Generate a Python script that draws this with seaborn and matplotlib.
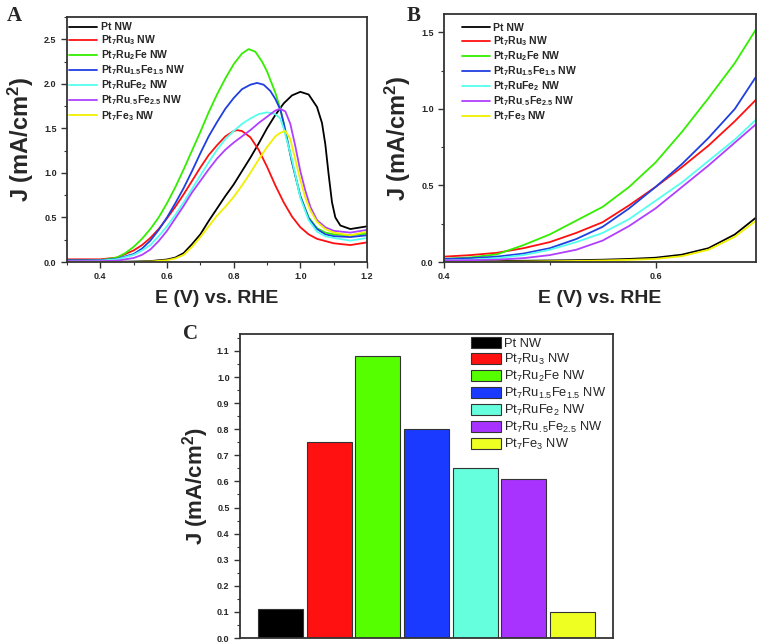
import re
import pandas as pd
import matplotlib
matplotlib.use("Agg")
import matplotlib.pyplot as plt
from matplotlib.ticker import MultipleLocator
import seaborn as sns

# sample names (mathtext for the subscripts)
labels = ["Pt NW", r"Pt$_7$Ru$_3$ NW", r"Pt$_7$Ru$_2$Fe NW", r"Pt$_7$Ru$_{1.5}$Fe$_{1.5}$ NW",
          r"Pt$_7$RuFe$_2$ NW", r"Pt$_7$Ru$_{.5}$Fe$_{2.5}$ NW", r"Pt$_7$Fe$_3$ NW"]
line_colors = ["#000000", "#ff1010", "#33ee00", "#1f3fe0", "#55ffee", "#b040ff", "#f0f000"]
bar_colors = ["#000000", "#ff1111", "#55ff00", "#1a3bff", "#66ffdd", "#a833ff", "#eeff22"]

# Panel A: full sweep
pt_v = [0.30, 0.40, 0.50, 0.55, 0.60, 0.625, 0.65, 0.675, 0.70, 0.725, 0.75, 0.775, 0.80, 0.825, 0.85, 0.875,
        0.90, 0.925, 0.95, 0.975, 1.00, 1.025, 1.05, 1.065, 1.075, 1.085, 1.095, 1.105, 1.12, 1.15, 1.20]
pt_j = [0.0, 0.0, 0.005, 0.01, 0.028, 0.05, 0.10, 0.20, 0.31, 0.46, 0.60, 0.74, 0.87, 1.02, 1.17, 1.33,
        1.50, 1.65, 1.78, 1.87, 1.91, 1.88, 1.74, 1.56, 1.32, 0.98, 0.67, 0.50, 0.41, 0.37, 0.40]
ru3_v = [0.30, 0.40, 0.45, 0.50, 0.525, 0.55, 0.575, 0.60, 0.625, 0.65, 0.675, 0.70, 0.725, 0.75, 0.775,
         0.80, 0.81, 0.825, 0.85, 0.875, 0.90, 0.925, 0.95, 0.975, 1.00, 1.025, 1.05, 1.10, 1.15, 1.20]
ru3_j = [0.03, 0.03, 0.05, 0.13, 0.19, 0.27, 0.37, 0.49, 0.62, 0.76, 0.91, 1.06, 1.20, 1.31, 1.41,
         1.47, 1.48, 1.47, 1.40, 1.26, 1.07, 0.86, 0.67, 0.51, 0.39, 0.31, 0.26, 0.21, 0.19, 0.22]
ru2fe_v = [0.30, 0.40, 0.45, 0.475, 0.50, 0.525, 0.55, 0.575, 0.60, 0.625, 0.65, 0.675, 0.70, 0.725, 0.75,
           0.775, 0.80, 0.825, 0.845, 0.865, 0.885, 0.90, 0.925, 0.94, 0.95, 0.975, 1.00, 1.025, 1.05,
           1.075, 1.10, 1.15, 1.20]
ru2fe_j = [0.02, 0.02, 0.05, 0.10, 0.17, 0.26, 0.37, 0.50, 0.66, 0.84, 1.04, 1.25, 1.46, 1.68, 1.88,
           2.06, 2.22, 2.34, 2.39, 2.36, 2.25, 2.14, 1.90, 1.72, 1.56, 1.12, 0.74, 0.50, 0.38,
           0.33, 0.31, 0.30, 0.32]
ru15_v = [0.30, 0.40, 0.45, 0.50, 0.525, 0.55, 0.575, 0.60, 0.625, 0.65, 0.675, 0.70, 0.725, 0.75, 0.775,
          0.80, 0.825, 0.85, 0.87, 0.89, 0.91, 0.925, 0.94, 0.95, 0.975, 1.00, 1.025, 1.05, 1.075, 1.10,
          1.15, 1.20]
ru15_j = [0.02, 0.02, 0.035, 0.09, 0.15, 0.24, 0.36, 0.50, 0.66, 0.83, 1.02, 1.22, 1.41, 1.57, 1.72,
          1.84, 1.94, 1.99, 2.01, 1.99, 1.92, 1.83, 1.71, 1.56, 1.12, 0.74, 0.49, 0.37, 0.31, 0.29,
          0.28, 0.30]
rufe2_v = [0.30, 0.40, 0.45, 0.50, 0.525, 0.55, 0.575, 0.60, 0.625, 0.65, 0.675, 0.70, 0.725, 0.75, 0.775,
           0.80, 0.825, 0.85, 0.875, 0.90, 0.925, 0.94, 0.95, 0.96, 0.975, 1.00, 1.025, 1.05, 1.075, 1.10,
           1.15, 1.20]
rufe2_j = [0.01, 0.015, 0.03, 0.08, 0.13, 0.19, 0.29, 0.40, 0.53, 0.67, 0.82, 0.97, 1.12, 1.26, 1.38,
           1.47, 1.55, 1.61, 1.66, 1.68, 1.66, 1.61, 1.50, 1.36, 1.15, 0.72, 0.47, 0.34, 0.29, 0.27,
           0.24, 0.27]
ru05_v = [0.30, 0.40, 0.45, 0.50, 0.525, 0.55, 0.575, 0.60, 0.625, 0.65, 0.675, 0.70, 0.725, 0.75, 0.775,
          0.80, 0.825, 0.85, 0.875, 0.90, 0.925, 0.94, 0.955, 0.97, 0.985, 1.00, 1.015, 1.03, 1.05, 1.075,
          1.10, 1.15, 1.20]
ru05_j = [0.01, 0.01, 0.015, 0.045, 0.08, 0.14, 0.235, 0.35, 0.49, 0.63, 0.78, 0.91, 1.04, 1.16, 1.26,
          1.34, 1.41, 1.48, 1.56, 1.63, 1.70, 1.72, 1.69, 1.55, 1.30, 1.02, 0.80, 0.62, 0.47, 0.39,
          0.35, 0.33, 0.36]
fe3_v = [0.30, 0.40, 0.50, 0.55, 0.60, 0.625, 0.65, 0.675, 0.70, 0.725, 0.75, 0.775, 0.80, 0.825, 0.85,
         0.875, 0.90, 0.925, 0.94, 0.955, 0.97, 0.985, 1.00, 1.015, 1.03, 1.05, 1.075, 1.10, 1.15, 1.20]
fe3_j = [0.0, 0.0, 0.0, 0.005, 0.02, 0.04, 0.08, 0.17, 0.28, 0.40, 0.52, 0.62, 0.73, 0.86, 1.00,
         1.15, 1.29, 1.41, 1.45, 1.47, 1.38, 1.15, 0.92, 0.72, 0.58, 0.45, 0.37, 0.33, 0.30, 0.34]

# Panel B: zoom on the onset region
b_v = [0.40, 0.425, 0.45, 0.475, 0.50, 0.525, 0.55, 0.575, 0.60, 0.625, 0.65, 0.675, 0.695]
b_pt = [0.005, 0.006, 0.007, 0.008, 0.01, 0.012, 0.015, 0.02, 0.028, 0.048, 0.09, 0.18, 0.29]
b_ru3 = [0.035, 0.045, 0.06, 0.09, 0.13, 0.19, 0.26, 0.37, 0.49, 0.62, 0.76, 0.92, 1.06]
b_ru2fe = [0.02, 0.03, 0.05, 0.11, 0.18, 0.27, 0.36, 0.49, 0.65, 0.85, 1.07, 1.30, 1.52]
b_ru15 = [0.02, 0.025, 0.035, 0.055, 0.09, 0.15, 0.23, 0.35, 0.49, 0.64, 0.81, 1.00, 1.21]
b_rufe2 = [0.01, 0.015, 0.025, 0.045, 0.08, 0.13, 0.19, 0.28, 0.40, 0.52, 0.66, 0.80, 0.93]
b_ru05 = [0.01, 0.012, 0.015, 0.025, 0.045, 0.08, 0.14, 0.235, 0.35, 0.49, 0.63, 0.78, 0.90]
b_fe3 = [0.0, 0.0, 0.002, 0.003, 0.005, 0.007, 0.01, 0.014, 0.02, 0.038, 0.08, 0.165, 0.27]

# Panel C: current density at fixed potential
bar_values = [0.11, 0.75, 1.08, 0.80, 0.65, 0.61, 0.10]


def bold(s):
    return re.sub(r"\$_\{?([^$}]+)\}?\$", r"$_{\\mathbf{\1}}$", s)


def long_frame(curves):
    rows = []
    for name, (vs, js) in zip(labels, curves):
        rows += [{"E": v, "J": j, "sample": name} for v, j in zip(vs, js)]
    return pd.DataFrame(rows)


sns.set_style("ticks")
plt.rcParams["font.family"] = ["Liberation Sans", "DejaVu Sans"]
plt.rcParams["font.weight"] = "bold"
plt.rcParams["mathtext.fontset"] = "custom"
plt.rcParams["mathtext.rm"] = "Liberation Sans:weight=normal"
plt.rcParams["mathtext.bf"] = "Liberation Sans:weight=bold"
plt.rcParams["mathtext.it"] = "Liberation Sans:italic:weight=normal"

W, H = 758, 643
fig = plt.figure(figsize=(W / 100, H / 100), dpi=100)


def px_axes(left, top, right, bottom):
    return fig.add_axes([left / W, 1 - bottom / H, (right - left) / W, (bottom - top) / H])


axA = px_axes(67, 17, 367, 262)
axB = px_axes(444, 14, 756, 262)
axC = px_axes(240, 334, 613, 638)

dfA = long_frame([(pt_v, pt_j), (ru3_v, ru3_j), (ru2fe_v, ru2fe_j), (ru15_v, ru15_j),
                  (rufe2_v, rufe2_j), (ru05_v, ru05_j), (fe3_v, fe3_j)])
dfB = long_frame([(b_v, b_pt), (b_v, b_ru3), (b_v, b_ru2fe), (b_v, b_ru15),
                  (b_v, b_rufe2), (b_v, b_ru05), (b_v, b_fe3)])

ylab = r"J (mA/cm$^\mathbf{2}$)"
for ax, df in [(axA, dfA), (axB, dfB)]:
    sns.lineplot(data=df, x="E", y="J", hue="sample", hue_order=labels, palette=line_colors,
                 estimator=None, sort=False, lw=1.3, legend=False, ax=ax)
    ax.legend(ax.lines[:7], [bold(s) for s in labels], frameon=False, fontsize=7.5,
              handlelength=2.7, handletextpad=0.35, labelspacing=0.12, borderpad=0,
              loc="upper left",
              bbox_to_anchor=(-0.01, 1.0) if ax is axA else (0.04, 0.985))
    ax.set_xlabel("E (V) vs. RHE", fontsize=14, fontweight="bold", labelpad=6)
    ax.set_ylabel(ylab, fontsize=17, fontweight="bold", labelpad=6)
    ax.yaxis.set_major_locator(MultipleLocator(0.5))
    ax.yaxis.set_minor_locator(MultipleLocator(0.25))

axA.set_xlim(0.3, 1.2)
axA.set_ylim(0, 2.75)
axA.xaxis.set_major_locator(MultipleLocator(0.2))
axA.xaxis.set_minor_locator(MultipleLocator(0.1))
axB.set_xlim(0.4, 0.695)
axB.set_ylim(0, 1.62)
axB.xaxis.set_major_locator(MultipleLocator(0.2))
axB.xaxis.set_minor_locator(MultipleLocator(0.1))

# Panel C bars
dfC = pd.DataFrame({"sample": labels, "J": bar_values})
sns.barplot(data=dfC, x="sample", y="J", hue="sample", hue_order=labels, order=labels,
            palette=bar_colors, saturation=1, dodge=False, width=0.92, edgecolor="#333333",
            linewidth=0.8, legend=False, ax=axC)
axC.set_xlim(-0.83, 6.83)
axC.set_ylim(0, 1.165)
axC.set_xticks([])
axC.set_xlabel("")
axC.set_ylabel(ylab, fontsize=16, fontweight="bold", labelpad=4)
axC.yaxis.set_major_locator(MultipleLocator(0.1))
axC.yaxis.set_minor_locator(MultipleLocator(0.05))
axC.legend(axC.patches[:7], labels, frameon=False, prop={"size": 9.3, "weight": "normal"},
           handlelength=2.3, handleheight=0.95, handletextpad=0.3, labelspacing=0.15,
           borderpad=0, loc="upper right", bbox_to_anchor=(1.0, 1.012))

for ax in (axA, axB, axC):
    for sp in ax.spines.values():
        sp.set_visible(True)
        sp.set_linewidth(1.3)
        sp.set_color("#333333")
    ax.tick_params(which="major", direction="out", length=4, width=1, labelsize=6.5, color="#333333")
    ax.tick_params(which="minor", direction="out", length=2, width=0.8, color="#333333")
axC.tick_params(axis="x", which="both", length=0)

for x, y, s in [(7, 6, "A"), (407, 6, "B"), (183, 324, "C")]:
    fig.text(x / W, 1 - y / H, s, ha="left", va="top", fontsize=15, fontweight="bold",
             family="Liberation Serif")

fig.savefig("out.png", dpi=100)
